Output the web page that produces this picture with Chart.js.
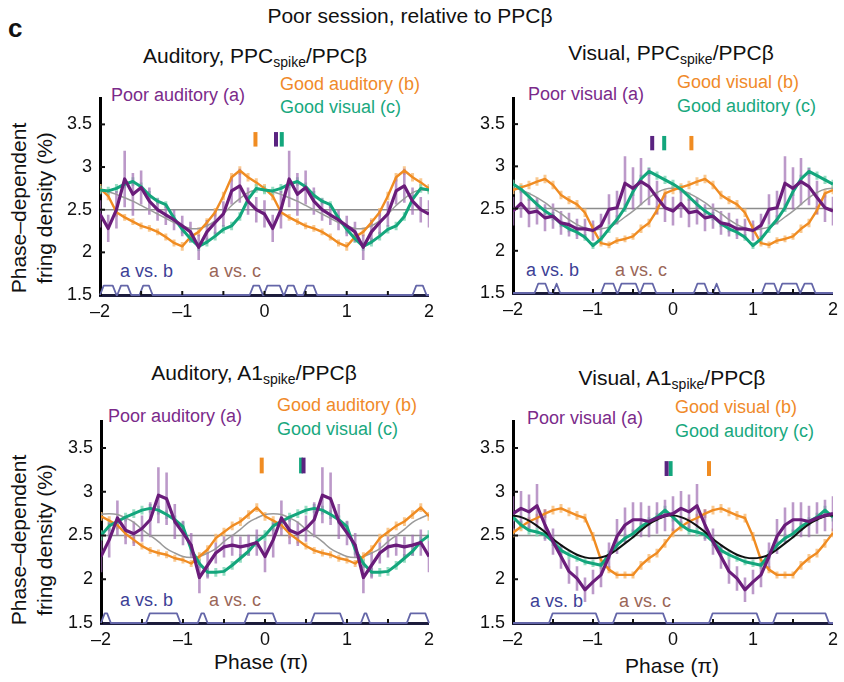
<!DOCTYPE html>
<html>
<head>
<meta charset="utf-8">
<script src="https://cdn.jsdelivr.net/npm/chart.js@4.4.0/dist/chart.umd.min.js"></script>
<style>
  html, body { margin: 0; padding: 0; background: #fff; overflow: hidden; }
  body { position: relative; width: 844px; height: 682px; font-family: "Liberation Sans", Arial, sans-serif; color: #111; }
  canvas { position: absolute; }
  .t { position: absolute; white-space: nowrap; line-height: 1; }
  .c21 { font-size: 21px; transform: translateX(-50%); }
  .sub { font-size: 14px; position: relative; top: 4px; }
  .leg { font-size: 18px; }
  .poor { color: #7b2a8a; }
  .goodb { color: #f08a2a; }
  .goodc { color: #18a87e; }
  .avb { color: #3d3f96; }
  .avc { color: #9a6658; }
  .ytitle { position: absolute; font-size: 21px; line-height: 26px; text-align: center; white-space: nowrap;
            transform: translate(-50%, -50%) rotate(-90deg); }
</style>
</head>
<body>

<div class="t" style="left:8px; top:15px; font-size:26px; font-weight:bold;">c</div>
<div class="t c21" style="left:410px; top:5px;">Poor session, relative to PPCβ</div>

<!-- panel titles -->
<div class="t c21" style="left:255px; top:45px;">Auditory, PPC<span class="sub">spike</span>/PPCβ</div>
<div class="t c21" style="left:671px; top:42px;">Visual, PPC<span class="sub">spike</span>/PPCβ</div>
<div class="t c21" style="left:254px; top:362px;">Auditory, A1<span class="sub">spike</span>/PPCβ</div>
<div class="t c21" style="left:672px; top:367px;">Visual, A1<span class="sub">spike</span>/PPCβ</div>

<!-- series labels -->
<div class="t leg poor"  style="left:111px; top:86px;">Poor auditory (a)</div>
<div class="t leg goodb" style="left:280px; top:75px;">Good auditory (b)</div>
<div class="t leg goodc" style="left:280px; top:98px;">Good visual (c)</div>

<div class="t leg poor"  style="left:528px; top:85px;">Poor visual (a)</div>
<div class="t leg goodb" style="left:677px; top:73px;">Good visual (b)</div>
<div class="t leg goodc" style="left:677px; top:97px;">Good auditory (c)</div>

<div class="t leg poor"  style="left:108px; top:407px;">Poor auditory (a)</div>
<div class="t leg goodb" style="left:277px; top:396px;">Good auditory (b)</div>
<div class="t leg goodc" style="left:277px; top:420px;">Good visual (c)</div>

<div class="t leg poor"  style="left:527px; top:409px;">Poor visual (a)</div>
<div class="t leg goodb" style="left:675px; top:398px;">Good visual (b)</div>
<div class="t leg goodc" style="left:675px; top:422px;">Good auditory (c)</div>

<!-- comparison labels -->
<div class="t leg avb" style="left:120px; top:262px;">a vs. b</div>
<div class="t leg avc" style="left:209px; top:262px;">a vs. c</div>
<div class="t leg avb" style="left:526px; top:261px;">a vs. b</div>
<div class="t leg avc" style="left:615px; top:261px;">a vs. c</div>
<div class="t leg avb" style="left:120px; top:591px;">a vs. b</div>
<div class="t leg avc" style="left:209px; top:591px;">a vs. c</div>
<div class="t leg avb" style="left:530px; top:592px;">a vs. b</div>
<div class="t leg avc" style="left:619px; top:592px;">a vs. c</div>

<!-- axis titles -->
<div class="ytitle" style="left:32px; top:208px;">Phase–dependent<br>fring density (%)</div>
<div class="ytitle" style="left:32px; top:540px;">Phase–dependent<br>fring density (%)</div>
<div class="t c21" style="left:261px; top:651px;">Phase (π)</div>
<div class="t c21" style="left:672px; top:655px;">Phase (π)</div>

<script>
// phase axis in units of pi
const phase = [-2.0, -1.9, -1.8, -1.7, -1.6, -1.5, -1.4, -1.3, -1.2, -1.1,
               -1.0, -0.9, -0.8, -0.7, -0.6, -0.5, -0.4, -0.3, -0.2, -0.1,
                0.0,  0.1,  0.2,  0.3,  0.4,  0.5,  0.6,  0.7,  0.8,  0.9,
                1.0,  1.1,  1.2,  1.3,  1.4,  1.5,  1.6,  1.7,  1.8,  1.9, 2.0];
const xTicks = [-2, -1, 0, 1, 2];
const xInnerTicks = [-1.5, -1, -0.5, 0, 0.5, 1, 1.5];
const yTicks = [1.5, 2, 2.5, 3, 3.5];
const meanLevel = 2.5;

// one cycle (-2 .. -0.1), the second cycle repeats it

// Auditory, PPC spike / PPC beta
const tlPoor     = [2.45, 2.28, 2.50, 2.86, 2.68, 2.76, 2.60, 2.50, 2.44, 2.38, 2.31, 2.24, 2.06, 2.24, 2.35, 2.45, 2.72, 2.78, 2.60, 2.50];
const tlPoorErr  = [0.16, 0.16, 0.22, 0.33, 0.25, 0.20, 0.16, 0.13, 0.12, 0.12, 0.12, 0.12, 0.15, 0.14, 0.14, 0.15, 0.16, 0.20, 0.16, 0.15];
const tlGoodB    = [2.75, 2.66, 2.47, 2.41, 2.36, 2.31, 2.28, 2.24, 2.18, 2.11, 2.07, 2.18, 2.24, 2.35, 2.47, 2.66, 2.88, 2.96, 2.88, 2.82];
const tlGoodBErr = [0.05, 0.05, 0.05, 0.04, 0.04, 0.04, 0.04, 0.04, 0.04, 0.04, 0.05, 0.05, 0.05, 0.05, 0.05, 0.05, 0.05, 0.05, 0.05, 0.05];
const tlGoodC    = [2.73, 2.72, 2.75, 2.80, 2.83, 2.77, 2.67, 2.60, 2.56, 2.40, 2.27, 2.16, 2.07, 2.12, 2.19, 2.27, 2.31, 2.42, 2.62, 2.75];
const tlGoodCErr = [0.05, 0.05, 0.05, 0.05, 0.05, 0.05, 0.05, 0.04, 0.04, 0.04, 0.05, 0.05, 0.05, 0.05, 0.05, 0.05, 0.05, 0.05, 0.05, 0.05];
const tlFit      = [2.73, 2.71, 2.68, 2.64, 2.60, 2.55, 2.50, 2.45, 2.40, 2.35, 2.31, 2.28, 2.28, 2.31, 2.37, 2.45, 2.55, 2.63, 2.70, 2.73];
const tlSig      = [[-2.0, -1.8], [-1.79, -1.62], [-1.52, -1.36], [-0.18, -0.02], [-0.01, 0.23], [0.24, 0.40], [0.47, 0.64], [1.80, 1.97]];
const tlPref     = [0.14, -0.11, 0.21];   // a, b, c

// Visual, PPC spike / PPC beta
const trPoor     = [2.47, 2.56, 2.45, 2.47, 2.39, 2.41, 2.33, 2.31, 2.26, 2.26, 2.24, 2.30, 2.49, 2.51, 2.80, 2.74, 2.82, 2.76, 2.63, 2.51];
const trPoorErr  = [0.17, 0.17, 0.17, 0.16, 0.16, 0.15, 0.14, 0.14, 0.12, 0.12, 0.12, 0.14, 0.18, 0.20, 0.32, 0.25, 0.28, 0.22, 0.20, 0.17];
const trGoodB    = [2.72, 2.75, 2.78, 2.82, 2.85, 2.78, 2.66, 2.60, 2.55, 2.45, 2.26, 2.09, 2.07, 2.12, 2.14, 2.17, 2.26, 2.33, 2.48, 2.68];
const trGoodBErr = [0.05, 0.05, 0.05, 0.05, 0.05, 0.05, 0.05, 0.05, 0.05, 0.05, 0.05, 0.04, 0.04, 0.04, 0.04, 0.04, 0.05, 0.05, 0.05, 0.05];
const trGoodC    = [2.79, 2.73, 2.64, 2.55, 2.47, 2.41, 2.32, 2.26, 2.22, 2.16, 2.06, 2.14, 2.26, 2.37, 2.51, 2.70, 2.85, 2.94, 2.89, 2.84];
const trGoodCErr = [0.05, 0.05, 0.05, 0.05, 0.05, 0.05, 0.04, 0.04, 0.04, 0.04, 0.04, 0.04, 0.05, 0.05, 0.05, 0.05, 0.05, 0.05, 0.05, 0.05];
const trFit      = [2.74, 2.72, 2.68, 2.63, 2.57, 2.50, 2.44, 2.37, 2.31, 2.27, 2.25, 2.26, 2.28, 2.33, 2.40, 2.47, 2.55, 2.63, 2.69, 2.73];
const trSig      = [[-1.73, -1.55], [-1.50, -1.41], [-0.90, -0.70], [-0.69, -0.42], [-0.41, -0.21], [0.26, 0.44], [0.50, 0.59], [1.11, 1.31], [1.32, 1.59], [1.60, 1.78]];
const trPref     = [-0.26, 0.23, -0.11];

// Auditory, A1 spike / PPC beta
const blPoor     = [2.26, 2.45, 2.70, 2.56, 2.52, 2.58, 2.68, 2.96, 2.92, 2.66, 2.53, 2.39, 2.02, 2.16, 2.30, 2.37, 2.39, 2.37, 2.39, 2.42];
const blPoorErr  = [0.18, 0.20, 0.20, 0.16, 0.14, 0.15, 0.20, 0.32, 0.30, 0.20, 0.14, 0.14, 0.18, 0.15, 0.12, 0.12, 0.12, 0.12, 0.12, 0.15];
const blGoodB    = [2.72, 2.67, 2.62, 2.52, 2.45, 2.38, 2.33, 2.30, 2.28, 2.24, 2.22, 2.18, 2.26, 2.34, 2.47, 2.54, 2.61, 2.66, 2.74, 2.82];
const blGoodBErr = [0.05, 0.05, 0.05, 0.05, 0.04, 0.04, 0.04, 0.04, 0.04, 0.04, 0.04, 0.04, 0.05, 0.05, 0.05, 0.05, 0.05, 0.05, 0.05, 0.05];
const blGoodC    = [2.50, 2.61, 2.66, 2.71, 2.75, 2.79, 2.81, 2.79, 2.74, 2.68, 2.60, 2.34, 2.18, 2.08, 2.08, 2.09, 2.16, 2.24, 2.32, 2.43];
const blGoodCErr = [0.06, 0.06, 0.05, 0.05, 0.05, 0.05, 0.05, 0.05, 0.05, 0.05, 0.06, 0.06, 0.05, 0.05, 0.05, 0.05, 0.05, 0.05, 0.05, 0.06];
const blFit      = [2.74, 2.75, 2.74, 2.70, 2.65, 2.57, 2.50, 2.43, 2.35, 2.30, 2.26, 2.25, 2.26, 2.30, 2.35, 2.43, 2.50, 2.57, 2.65, 2.70];
const blSig      = [[-2.0, -1.88], [-1.45, -1.03], [-0.82, -0.70], [-0.25, 0.14], [0.56, 0.96], [1.17, 1.28], [1.73, 2.0]];
const blPref     = [0.47, -0.04, 0.44];

// Visual, A1 spike / PPC beta
const brPoor     = [2.75, 2.81, 2.77, 2.84, 2.62, 2.43, 2.26, 2.09, 2.01, 1.88, 1.97, 2.05, 2.26, 2.49, 2.62, 2.68, 2.68, 2.66, 2.70, 2.73];
const brPoorErr  = [0.20, 0.20, 0.20, 0.25, 0.18, 0.15, 0.14, 0.14, 0.14, 0.14, 0.14, 0.14, 0.16, 0.20, 0.20, 0.20, 0.20, 0.18, 0.18, 0.18];
const brGoodB    = [2.53, 2.60, 2.66, 2.70, 2.75, 2.79, 2.81, 2.77, 2.73, 2.70, 2.49, 2.22, 2.11, 2.05, 2.05, 2.05, 2.16, 2.24, 2.30, 2.41];
const brGoodBErr = [0.05, 0.05, 0.05, 0.05, 0.05, 0.05, 0.05, 0.05, 0.05, 0.05, 0.05, 0.05, 0.04, 0.04, 0.04, 0.04, 0.05, 0.05, 0.05, 0.05];
const brGoodC    = [2.71, 2.62, 2.56, 2.54, 2.51, 2.43, 2.33, 2.28, 2.24, 2.20, 2.18, 2.16, 2.28, 2.39, 2.47, 2.52, 2.60, 2.66, 2.71, 2.79];
const brGoodCErr = [0.05, 0.05, 0.05, 0.05, 0.05, 0.05, 0.05, 0.05, 0.04, 0.04, 0.04, 0.04, 0.05, 0.05, 0.05, 0.05, 0.05, 0.05, 0.05, 0.05];
const brFit      = [2.73, 2.71, 2.67, 2.61, 2.54, 2.46, 2.39, 2.33, 2.28, 2.25, 2.24, 2.25, 2.28, 2.34, 2.41, 2.48, 2.56, 2.63, 2.68, 2.72];
const brSig      = [[-1.55, -0.92], [-0.75, -0.08], [0.45, 1.09], [1.25, 1.95]];
const brPref     = [-0.08, 0.45, -0.03];

const PURPLE = '#6a1c7a', PURPLE_ERR = 'rgba(160,110,178,0.7)';
const ORANGE = '#f08c22', ORANGE_ERR = 'rgba(248,190,125,0.85)';
const GREEN = '#13a67c', GREEN_ERR = 'rgba(125,212,180,0.8)';
const SIG_BLUE = '#6466a8';
const SIG_TOP = 1.61;
const FONT = '"Liberation Sans", Arial, sans-serif';

function twoCycles(c) {
  return c.concat(c, [c[0]]);
}

function pts(cycle) {
  return twoCycles(cycle).map((v, i) => ({ x: phase[i], y: v }));
}

// vertical error segments, separated by gaps
function errPts(cycle, errCycle) {
  const vals = twoCycles(cycle), errs = twoCycles(errCycle);
  const out = [];
  vals.forEach((v, i) => {
    out.push({ x: phase[i], y: v - errs[i] }, { x: phase[i], y: v + errs[i] }, { x: phase[i], y: null });
  });
  return out;
}

// significance trace along the bottom of the axis
function sigPts(intervals) {
  const out = [{ x: -2, y: 1.5 }];
  intervals.forEach(([s, e]) => {
    const r = Math.min(0.045, (e - s) / 2);
    out.push({ x: s, y: 1.5 }, { x: s + r, y: SIG_TOP }, { x: e - r, y: SIG_TOP }, { x: e, y: 1.5 });
  });
  out.push({ x: 2, y: 1.5 });
  return out;
}

function marker(x, ys, color, order) {
  return { data: [{ x: x, y: ys[0] }, { x: x, y: ys[1] }], borderColor: color, borderWidth: 4,
           borderCapStyle: 'butt', clip: false, order: order };
}

// short tick marks pointing into the plot
const innerTicks = {
  id: 'innerTicks',
  afterDatasetsDraw(chart) {
    const { ctx, chartArea, scales } = chart;
    ctx.save();
    ctx.strokeStyle = '#111';
    ctx.lineWidth = 2;
    yTicks.slice(1).forEach(v => {
      const y = scales.y.getPixelForValue(v);
      ctx.beginPath();
      ctx.moveTo(chartArea.left, y);
      ctx.lineTo(chartArea.left + 5, y);
      ctx.stroke();
    });
    xInnerTicks.forEach(v => {
      const x = scales.x.getPixelForValue(v);
      ctx.beginPath();
      ctx.moveTo(x, chartArea.bottom);
      ctx.lineTo(x, chartArea.bottom - 4);
      ctx.stroke();
    });
    ctx.restore();
  }
};

function makePanel(p) {
  const canvas = document.createElement('canvas');
  canvas.width = p.w;
  canvas.height = p.h;
  canvas.style.left = p.left + 'px';
  canvas.style.top = p.top + 'px';
  document.body.appendChild(canvas);

  const datasets = [
    { data: [{ x: -2, y: meanLevel }, { x: 2, y: meanLevel }], borderColor: '#8c8c8c', borderWidth: 1.5, order: 20 },
    { data: errPts(p.goodB, p.goodBErr), borderColor: ORANGE_ERR, borderWidth: 3, borderCapStyle: 'butt', order: 19 },
    { data: errPts(p.goodC, p.goodCErr), borderColor: GREEN_ERR, borderWidth: 3, borderCapStyle: 'butt', order: 18 },
    { data: errPts(p.poor, p.poorErr), borderColor: PURPLE_ERR, borderWidth: 2.6, borderCapStyle: 'butt', order: 17 },
    { data: pts(p.fit), borderColor: p.fitColor, borderWidth: p.fitWidth, tension: 0.4, order: p.fitOrder },
    { data: pts(p.goodB), borderColor: ORANGE, borderWidth: 2.4, order: 14 },
    { data: pts(p.goodC), borderColor: GREEN, borderWidth: 3, order: 13 },
    { data: pts(p.poor), borderColor: PURPLE, borderWidth: 3.2, order: 11 },
    marker(p.pref[1], p.markY, ORANGE, 5),
    marker(p.pref[2], p.markY, GREEN, 4),
    marker(p.pref[0], p.markY, '#5a2380', 3),
    { data: sigPts(p.sig), borderColor: SIG_BLUE, borderWidth: 1.8, clip: false, order: 1 }
  ];

  new Chart(canvas, {
    type: 'line',
    data: { datasets: datasets },
    plugins: [innerTicks],
    options: {
      responsive: false,
      animation: false,
      events: [],
      layout: { padding: { top: p.padT, right: p.padR, left: 0, bottom: 0 } },
      elements: {
        point: { radius: 0 },
        line: { tension: 0, borderJoinStyle: 'round', fill: false }
      },
      plugins: { legend: { display: false }, tooltip: { enabled: false } },
      scales: {
        x: {
          type: 'linear', min: -2, max: 2,
          afterBuildTicks: s => { s.ticks = xTicks.map(v => ({ value: v })); },
          ticks: {
            color: '#111', padding: 6, maxRotation: 0,
            font: { family: FONT, size: 18 },
            callback: v => (v < 0 ? '–' + (-v) : String(v))
          },
          grid: { display: false, drawTicks: false },
          border: { color: '#1c1c3c', width: 3 },
          afterFit: s => { s.height = p.xH; }
        },
        y: {
          type: 'linear', min: 1.5, max: 3.8,
          afterBuildTicks: s => { s.ticks = yTicks.map(v => ({ value: v })); },
          ticks: { color: '#111', padding: 8, font: { family: FONT, size: 18 }, callback: v => String(v) },
          grid: { display: false, drawTicks: false },
          border: { color: '#000', width: 3 },
          afterFit: s => { s.width = p.yW; }
        }
      }
    }
  });
}

const panels = [
  { left: 0, top: 80, w: 440, h: 260, yW: 100, xH: 45, padT: 12.6, padR: 10,
    poor: tlPoor, poorErr: tlPoorErr, goodB: tlGoodB, goodBErr: tlGoodBErr, goodC: tlGoodC, goodCErr: tlGoodCErr,
    fit: tlFit, fitColor: '#9a9a9a', fitWidth: 1.5, fitOrder: 16, sig: tlSig, pref: tlPref, markY: [3.24, 3.41] },
  { left: 420, top: 80, w: 424, h: 260, yW: 93, xH: 47, padT: 11.75, padR: 5,
    poor: trPoor, poorErr: trPoorErr, goodB: trGoodB, goodBErr: trGoodBErr, goodC: trGoodC, goodCErr: trGoodCErr,
    fit: trFit, fitColor: '#9a9a9a', fitWidth: 1.5, fitOrder: 16, sig: trSig, pref: trPref, markY: [3.19, 3.36] },
  { left: 0, top: 400, w: 440, h: 260, yW: 101, xH: 37, padT: 21.75, padR: 10,
    poor: blPoor, poorErr: blPoorErr, goodB: blGoodB, goodBErr: blGoodBErr, goodC: blGoodC, goodCErr: blGoodCErr,
    fit: blFit, fitColor: '#9a9a9a', fitWidth: 1.5, fitOrder: 16, sig: blSig, pref: blPref, markY: [3.21, 3.39] },
  { left: 420, top: 400, w: 424, h: 260, yW: 93, xH: 37, padT: 21.75, padR: 5,
    poor: brPoor, poorErr: brPoorErr, goodB: brGoodB, goodBErr: brGoodBErr, goodC: brGoodC, goodCErr: brGoodCErr,
    fit: brFit, fitColor: '#111', fitWidth: 2, fitOrder: 12, sig: brSig, pref: brPref, markY: [3.18, 3.35] }
];

panels.forEach(makePanel);
</script>
</body>
</html>
